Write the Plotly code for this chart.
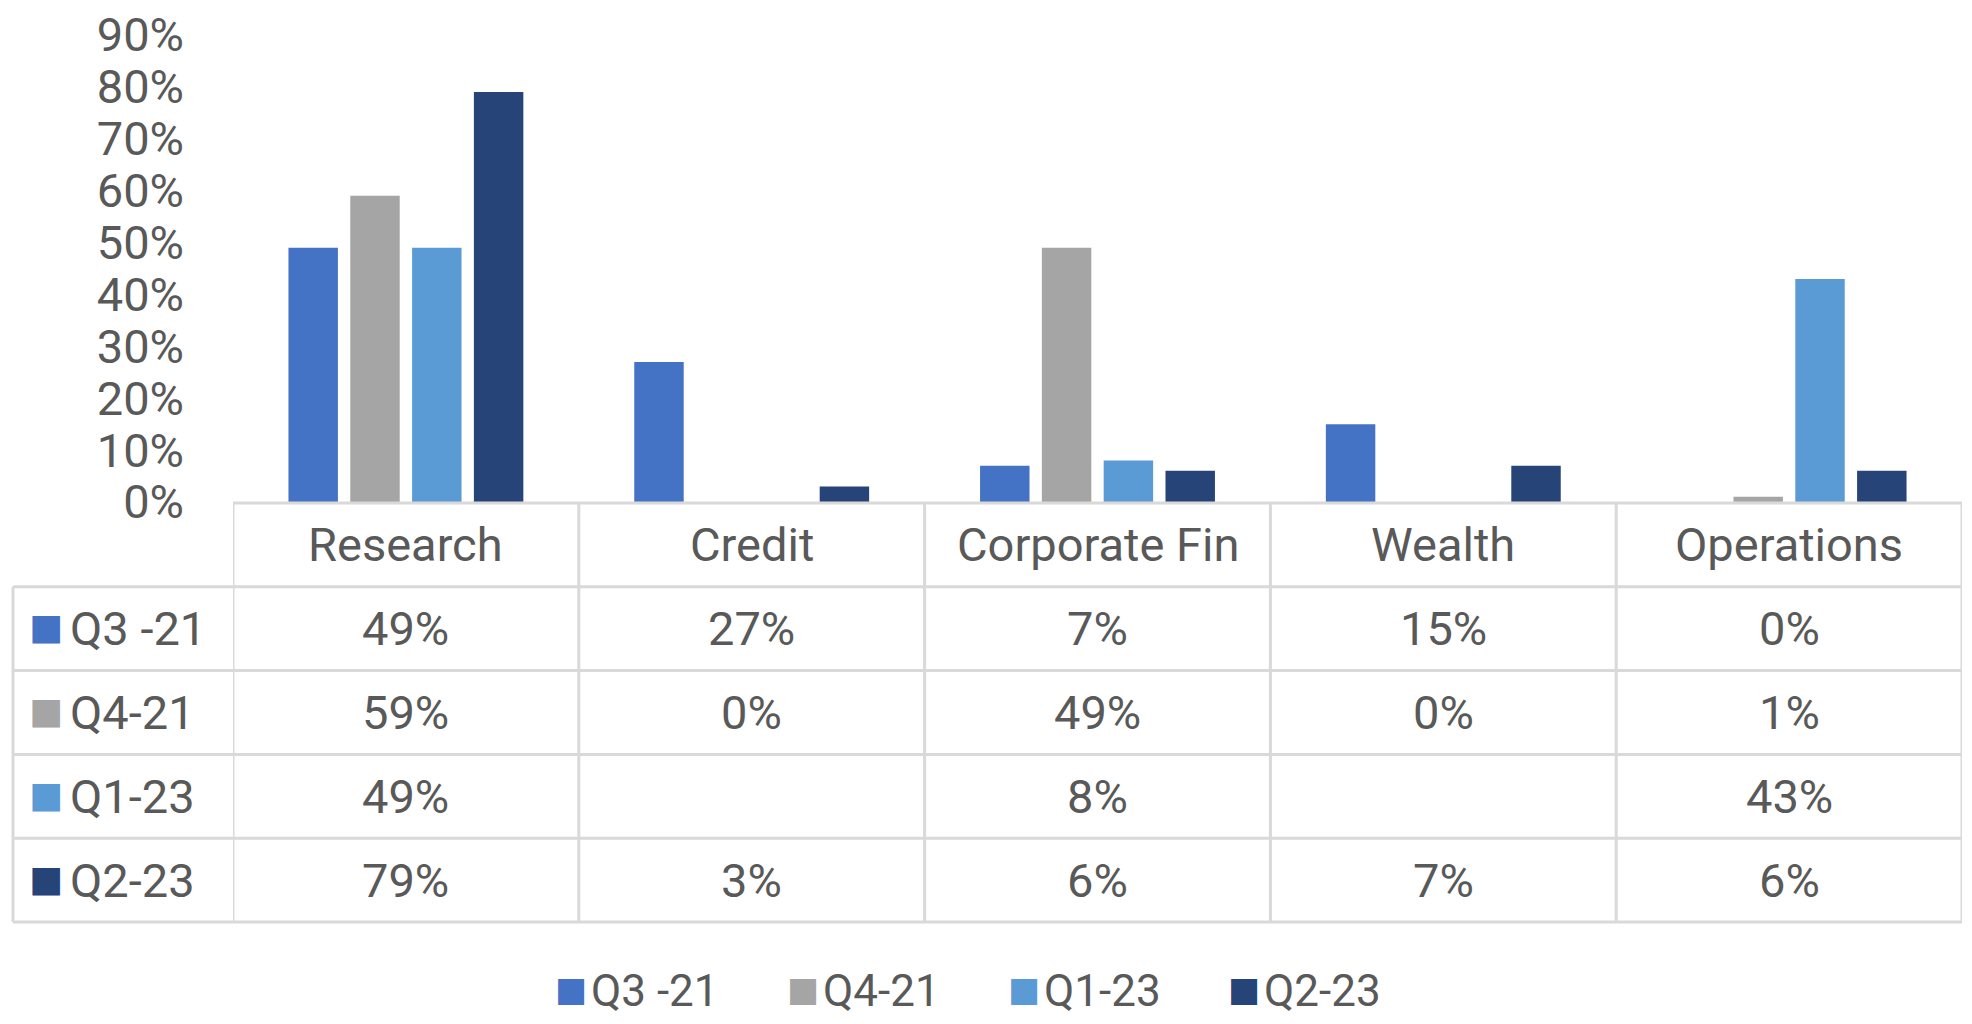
import plotly.graph_objects as go

categories = ["Research", "Credit", "Corporate Fin", "Wealth", "Operations"]
series_names = ["Q3 -21", "Q4-21", "Q1-23", "Q2-23"]
q3_21 = [0.49, 0.27, 0.07, 0.15, 0.00]
q4_21 = [0.59, 0.00, 0.49, 0.00, 0.01]
q1_23 = [0.49, None, 0.08, None, 0.43]
q2_23 = [0.79, 0.03, 0.06, 0.07, 0.06]
y_ticks = [0, 0.1, 0.2, 0.3, 0.4, 0.5, 0.6, 0.7, 0.8, 0.9]

series = [q3_21, q4_21, q1_23, q2_23]
colors = ["#4472C4", "#A5A5A5", "#5B9BD5", "#264478"]

# page is 1972x1024, body margin of 8px around the figure
OFF = 8
W, H = 1972 - 2 * OFF, 1024 - 2 * OFF
FONT = "Roboto, Liberation Sans, sans-serif"
TXT = "#595959"
GRID = "#D9D9D9"


def px_x(p):
    return (p - OFF) / W


def px_y(p):
    return 1 - (p - OFF) / H


# table geometry in page pixels
table_left = 13
plot_left = 233
plot_right = 1962
table_top = 503
row_h = 83.8
row_tops = [table_top + i * row_h for i in range(6)]  # header + 4 rows + bottom

fig = go.Figure()
for name, vals, col in zip(series_names, series, colors):
    fig.add_trace(go.Bar(x=categories, y=vals, name=name, marker=dict(color=col, line=dict(width=0)),
                         showlegend=False))

shapes = []
line = dict(color=GRID, width=3)
# header row top line (only over plot columns)
shapes.append(dict(type="line", xref="x", yref="paper", x0=-0.5, x1=len(categories) - 0.5,
                   y0=px_y(row_tops[0]), y1=px_y(row_tops[0]), line=line))
# remaining horizontal lines span the full table
for t in row_tops[1:]:
    shapes.append(dict(type="line", xref="paper", yref="paper", x0=px_x(table_left), x1=px_x(plot_right),
                       y0=px_y(t), y1=px_y(t), line=line))
# vertical column borders
for i in range(len(categories) + 1):
    shapes.append(dict(type="line", xref="x", yref="paper", x0=i - 0.5, x1=i - 0.5,
                       y0=px_y(row_tops[0]), y1=px_y(row_tops[-1]), line=line))
shapes.append(dict(type="line", xref="paper", yref="paper", x0=px_x(table_left), x1=px_x(table_left),
                   y0=px_y(row_tops[1]), y1=px_y(row_tops[-1]), line=line))

annotations = []
fnt = dict(family=FONT, size=47, color=TXT)


def key(x_sq, x_txt, y, col, name, size, sq_size):
    # coloured square + series name, as in the Excel legend keys
    annotations.append(dict(x=px_x(x_sq), xref="paper", yref="paper", y=y, xanchor="left", yanchor="middle",
                            text="■", showarrow=False, yshift=2,
                            font=dict(family="DejaVu Sans", size=sq_size, color=col)))
    annotations.append(dict(x=px_x(x_txt), xref="paper", yref="paper", y=y, xanchor="left", yanchor="middle",
                            text=name, showarrow=False, font=dict(family=FONT, size=size, color=TXT)))


for c in categories:
    annotations.append(dict(x=c, xref="x", yref="paper", y=px_y((row_tops[0] + row_tops[1]) / 2),
                            text=c, showarrow=False, font=fnt, xanchor="center", yanchor="middle"))
for r, (name, vals, col) in enumerate(zip(series_names, series, colors)):
    yc = px_y((row_tops[r + 1] + row_tops[r + 2]) / 2)
    key(27, 68, yc, col, name, 47, 36)
    for c, v in zip(categories, vals):
        if v is None:
            continue
        annotations.append(dict(x=c, xref="x", yref="paper", y=yc, text=f"{round(v * 100)}%",
                                showarrow=False, font=fnt, xanchor="center", yanchor="middle"))

# bottom legend
legend_x = [553, 785, 1006, 1226]
for lx, name, col in zip(legend_x, series_names, colors):
    key(lx, lx + 36, px_y(991), col, name, 44, 34)

fig.update_layout(
    width=W, height=H,
    margin=dict(l=0, r=0, t=0, b=0, autoexpand=False),
    paper_bgcolor="white", plot_bgcolor="white",
    barmode="group", bargap=0.285, bargroupgap=0.2,
    font=dict(family=FONT, size=47, color=TXT),
    xaxis=dict(domain=[px_x(plot_left), px_x(plot_right)], range=[-0.5, len(categories) - 0.5],
               showticklabels=False, showgrid=False, zeroline=False, showline=False, automargin=False),
    yaxis=dict(domain=[px_y(502), px_y(35)], range=[0, 0.9], tickvals=y_ticks, tickformat=".0%",
               showgrid=False, zeroline=False, showline=False, ticklabelstandoff=48, automargin=False,
               ticklabeloverflow="allow", tickfont=dict(family=FONT, size=47, color=TXT)),
    shapes=shapes, annotations=annotations,
)

fig.write_html("out.html")
